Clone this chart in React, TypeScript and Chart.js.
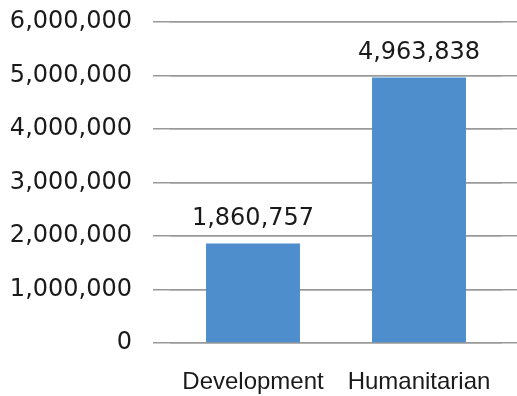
import React, { useEffect, useRef } from "react";
import { Chart, registerables } from "chart.js";

Chart.register(...registerables);

const categories = ["Development", "Humanitarian"];
const values = [1860757, 4963838];
const yMin = 0;
const yMax = 6000000;
const yStep = 1000000;

const numFont = "'DejaVu Sans', sans-serif";
const catFont = "'Liberation Sans', Arial, sans-serif";
const textColor = "#1a1a1a";
const gridColor = "#999999";
const barColor = "#4e8ecc";

const fmt = (v: number) => v.toLocaleString("en-US");

const dataLabels = {
  id: "dataLabels",
  afterDatasetsDraw(chart: any) {
    const ctx = chart.ctx;
    const meta = chart.getDatasetMeta(0);
    ctx.save();
    ctx.font = `24px ${numFont}`;
    ctx.fillStyle = textColor;
    ctx.textAlign = "center";
    ctx.textBaseline = "alphabetic";
    meta.data.forEach((bar: any, i: number) => {
      ctx.fillText(fmt(values[i]), bar.x, bar.y - 18);
    });
    ctx.restore();
  },
};

export default function App() {
  const ref = useRef<HTMLCanvasElement | null>(null);
  useEffect(() => {
    if (!ref.current) return;
    const chart = new Chart(ref.current, {
      type: "bar",
      data: {
        labels: categories,
        datasets: [
          {
            data: values,
            backgroundColor: barColor,
            borderWidth: 0,
            categoryPercentage: 1,
            barPercentage: 0.566,
          },
        ],
      },
      options: {
        animation: false,
        responsive: true,
        maintainAspectRatio: false,
        layout: { padding: { top: 22, left: 0, right: 0, bottom: 0 } },
        plugins: { legend: { display: false }, tooltip: { enabled: false } },
        scales: {
          x: {
            grid: { display: false, drawTicks: false },
            border: { display: false },
            afterFit: (s: any) => {
              s.height = 53;
              s.paddingLeft = 0;
              s.paddingRight = 0;
            },
            ticks: {
              color: textColor,
              font: { family: catFont, size: 24 },
              padding: 25,
              maxRotation: 0,
            },
          },
          y: {
            min: yMin,
            max: yMax,
            afterFit: (s: any) => {
              s.width = 170;
              s.paddingTop = 0;
              s.paddingBottom = 0;
            },
            ticks: {
              stepSize: yStep,
              color: textColor,
              font: { family: numFont, size: 24 },
              padding: 21,
              callback: (v: any) => fmt(Number(v)),
            },
            grid: { color: gridColor, lineWidth: 1.5, tickLength: 17, drawTicks: true },
            border: { display: false },
          },
          y2: {
            position: "right",
            min: yMin,
            max: yMax,
            afterFit: (s: any) => {
              s.width = 15;
              s.paddingTop = 0;
              s.paddingBottom = 0;
            },
            ticks: { stepSize: yStep, display: false },
            grid: { color: gridColor, lineWidth: 1.5, tickLength: 15, drawOnChartArea: true, drawTicks: true },
            border: { display: false },
          },
        },
      },
      plugins: [dataLabels],
    });
    return () => chart.destroy();
  }, []);
  return (
    <div style={{ position: "fixed", left: 0, top: 0, width: 517, height: 396, background: "#fff" }}>
      <canvas ref={ref} />
    </div>
  );
}
